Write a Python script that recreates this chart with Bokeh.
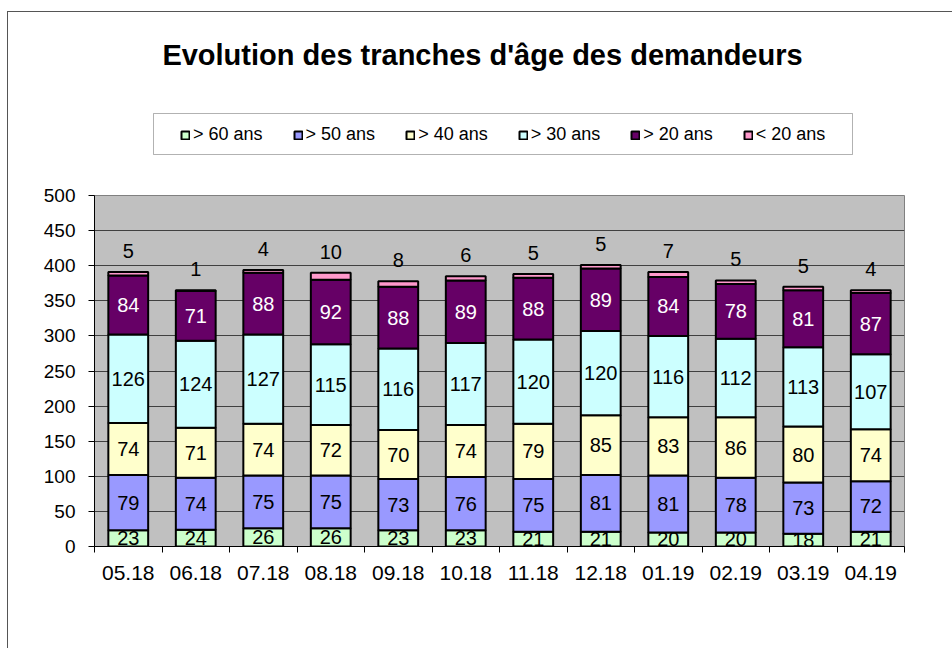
import numpy as np
import pandas as pd
from bokeh.plotting import figure
from bokeh.layouts import column
from bokeh.core.properties import value
from bokeh.models import (ColumnDataSource, Legend, LegendItem, LabelSet, Label,
                          FixedTicker, Range1d, BoxAnnotation)
from bokeh.embed import file_html
from bokeh.resources import INLINE

months = ["05.18", "06.18", "07.18", "08.18", "09.18", "10.18",
          "11.18", "12.18", "01.19", "02.19", "03.19", "04.19"]
series_names = ["> 60 ans", "> 50 ans", "> 40 ans", "> 30 ans", "> 20 ans", "< 20 ans"]
over60 = [23, 24, 26, 26, 23, 23, 21, 21, 20, 20, 18, 21]
over50 = [79, 74, 75, 75, 73, 76, 75, 81, 81, 78, 73, 72]
over40 = [74, 71, 74, 72, 70, 74, 79, 85, 83, 86, 80, 74]
over30 = [126, 124, 127, 115, 116, 117, 120, 120, 116, 112, 113, 107]
over20 = [84, 71, 88, 92, 88, 89, 88, 89, 84, 78, 81, 87]
under20 = [5, 1, 4, 10, 8, 6, 5, 5, 7, 5, 5, 4]
y_ticks = [0, 50, 100, 150, 200, 250, 300, 350, 400, 450, 500]
title_text = "Evolution des tranches d'âge des demandeurs"

colors = ["#CCFFCC", "#9999FF", "#FFFFCC", "#CCFFFF", "#660066", "#FF99CC"]
label_colors = ["black", "black", "black", "black", "white"]
keys = ["s0", "s1", "s2", "s3", "s4", "s5"]
values = [over60, over50, over40, over30, over20, under20]

FONT = "Liberation Sans"

df = pd.DataFrame({k: v for k, v in zip(keys, values)})
df["x"] = np.arange(len(months)) + 0.5
cum = df[keys].cumsum(axis=1)
for i, k in enumerate(keys):
    df[k + "_mid"] = cum[k] - df[k] / 2.0
    df[k + "_txt"] = df[k].astype(str)
df["total"] = cum[keys[-1]]
source = ColumnDataSource(df)

W = 944

# ---------- header figure: title + legend ----------
head = figure(width=W, height=163, output_backend="svg", toolbar_location=None,
              x_range=Range1d(0, len(months)), y_range=Range1d(0, 500),
              x_axis_type=None, y_axis_type=None,
              min_border_left=0, min_border_right=0, min_border_top=0,
              min_border_bottom=0)
head.outline_line_color = None
head.background_fill_color = "white"
head.border_fill_color = "white"
head.grid.grid_line_color = None
# hidden renderers, only used for the legend swatches
dummy = head.vbar_stack(keys, x="x", width=0.59, source=source, color=colors,
                        line_color="black", line_width=2)
for r in dummy:
    r.visible = False

legend_box = BoxAnnotation(left=59, right=758, bottom=21, top=62,
                           left_units="screen", right_units="screen",
                           bottom_units="screen", top_units="screen",
                           fill_color="white", fill_alpha=1.0,
                           line_color="black", line_width=1)
head.add_layout(legend_box)

items = [LegendItem(label=n, renderers=[r]) for n, r in zip(series_names, dummy)]
legend = Legend(items=items, orientation="horizontal", location=(86, 30),
                label_text_font=FONT, label_text_font_size="18px",
                label_text_color="black",
                glyph_width=10, glyph_height=10, label_standoff=3,
                spacing=30, padding=10, margin=0,
                border_line_color=None, background_fill_alpha=0.0,
                inactive_fill_alpha=0.0)
head.add_layout(legend)
title = Label(x=388, y=121, x_units="screen", y_units="screen", text=title_text,
              text_font=FONT, text_font_size="29px", text_font_style="bold",
              text_align="center", text_baseline="alphabetic", text_color="black")
head.add_layout(title)

# ---------- main chart ----------
p = figure(width=W, height=473, output_backend="svg", toolbar_location=None,
           x_range=Range1d(0, len(months)), y_range=Range1d(0, 500),
           min_border_left=86, min_border_right=48, min_border_top=20,
           min_border_bottom=102)
p.background_fill_color = "#C0C0C0"
p.border_fill_color = "white"
p.outline_line_color = "#808080"
p.outline_line_width = 1

renderers = p.vbar_stack(keys, x="x", width=0.59, source=source, color=colors,
                         line_color="black", line_width=2)

for i, k in enumerate(keys[:-1]):
    ls = LabelSet(x="x", y=k + "_mid", text=k + "_txt", source=source,
                  text_align="center", text_baseline="middle",
                  text_font=value(FONT), text_font_size="20px",
                  text_color=label_colors[i])
    p.add_layout(ls)

top = LabelSet(x="x", y="total", text="s5_txt", source=source, y_offset=21,
               text_align="center", text_baseline="middle",
               text_font=value(FONT), text_font_size="20px", text_color="black")
p.add_layout(top)

p.xgrid.grid_line_color = None
p.ygrid.grid_line_color = "#404040"
p.ygrid.grid_line_width = 1
p.yaxis.ticker = FixedTicker(ticks=y_ticks)
p.yaxis.major_tick_out = 6
p.yaxis.major_tick_in = 0
p.yaxis.minor_tick_line_color = None
p.yaxis.axis_line_color = "black"
p.yaxis.major_tick_line_color = "black"
p.yaxis.major_label_text_font = FONT
p.yaxis.major_label_text_font_size = "19px"
p.yaxis.major_label_text_color = "black"
p.yaxis.major_label_standoff = 13

xs = list(df["x"])
p.xaxis.ticker = FixedTicker(ticks=xs, minor_ticks=list(range(len(months) + 1)))
p.xaxis.major_label_overrides = {float(x): m for x, m in zip(xs, months)}
p.xaxis.major_tick_line_color = None
p.xaxis.major_tick_out = 0
p.xaxis.major_tick_in = 0
p.xaxis.minor_tick_line_color = "black"
p.xaxis.minor_tick_out = 6
p.xaxis.minor_tick_in = 0
p.xaxis.axis_line_color = "black"
p.xaxis.major_label_text_font = FONT
p.xaxis.major_label_text_font_size = "21px"
p.xaxis.major_label_text_color = "black"
p.xaxis.major_label_standoff = 13

layout = column(head, p, spacing=0)
layout.styles = {"border-top": "1px solid #555555", "border-left": "1px solid #555555",
                 "margin-top": "11px", "margin-left": "7px"}

open("out.html", "w").write(file_html(layout, INLINE))
